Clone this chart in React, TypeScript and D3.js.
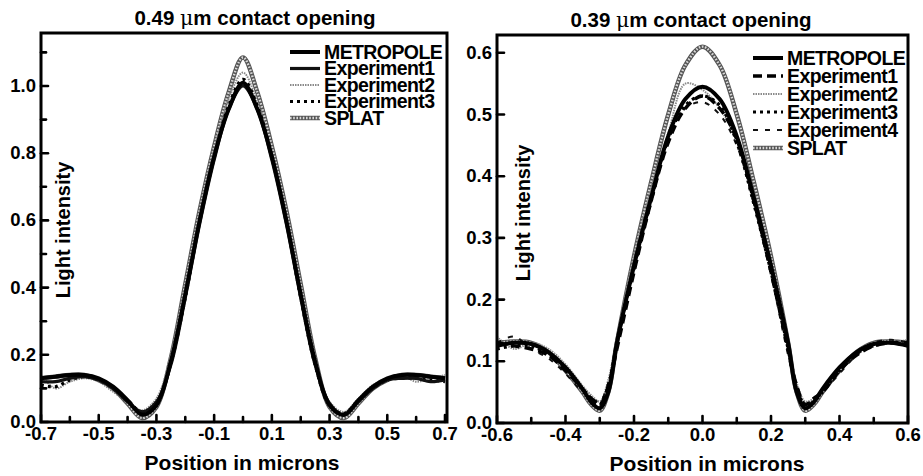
import React from "react";
import * as d3 from "d3";

// ---------- data ----------
const leftX = [-0.7, -0.65, -0.6, -0.55, -0.5, -0.45, -0.4, -0.35, -0.3, -0.25, -0.2, -0.15, -0.1, -0.05, 0, 0.05, 0.1, 0.15, 0.2, 0.25, 0.3, 0.35, 0.4, 0.45, 0.5, 0.55, 0.6, 0.65, 0.7];
const leftMetropole = [0.13, 0.135, 0.14, 0.14, 0.13, 0.105, 0.065, 0.022, 0.05, 0.18, 0.38, 0.6, 0.79, 0.93, 1.01, 0.93, 0.79, 0.6, 0.38, 0.18, 0.05, 0.022, 0.065, 0.105, 0.13, 0.14, 0.14, 0.135, 0.13];
const leftExp1 = [0.12, 0.12, 0.13, 0.135, 0.125, 0.1, 0.06, 0.03, 0.06, 0.17, 0.37, 0.59, 0.78, 0.93, 1.0, 0.93, 0.78, 0.59, 0.37, 0.17, 0.055, 0.02, 0.06, 0.1, 0.125, 0.13, 0.13, 0.12, 0.125];
const leftExp2 = [0.14, 0.1, 0.12, 0.13, 0.12, 0.09, 0.06, 0.035, 0.07, 0.2, 0.4, 0.62, 0.81, 0.96, 1.04, 0.95, 0.79, 0.6, 0.38, 0.18, 0.06, 0.03, 0.07, 0.11, 0.13, 0.14, 0.12, 0.13, 0.14];
const leftExp3 = [0.11, 0.105, 0.125, 0.135, 0.125, 0.1, 0.065, 0.03, 0.055, 0.175, 0.37, 0.6, 0.79, 0.94, 1.02, 0.94, 0.79, 0.6, 0.37, 0.17, 0.05, 0.025, 0.065, 0.1, 0.125, 0.13, 0.13, 0.125, 0.12];
const leftSplat = [0.13, 0.135, 0.14, 0.14, 0.125, 0.1, 0.055, 0.012, 0.045, 0.19, 0.41, 0.63, 0.82, 0.98, 1.085, 0.98, 0.82, 0.63, 0.41, 0.19, 0.045, 0.012, 0.055, 0.1, 0.125, 0.14, 0.14, 0.135, 0.13];

const rightX = [-0.6, -0.55, -0.5, -0.45, -0.4, -0.35, -0.325, -0.3, -0.275, -0.25, -0.2, -0.15, -0.1, -0.05, 0, 0.05, 0.1, 0.15, 0.2, 0.25, 0.275, 0.3, 0.325, 0.35, 0.4, 0.45, 0.5, 0.55, 0.6];
const rightMetropole = [0.125, 0.13, 0.128, 0.115, 0.09, 0.055, 0.034, 0.024, 0.05, 0.13, 0.255, 0.365, 0.465, 0.525, 0.545, 0.525, 0.465, 0.365, 0.255, 0.13, 0.05, 0.024, 0.034, 0.055, 0.09, 0.115, 0.128, 0.13, 0.125];
const rightExp1 = [0.13, 0.125, 0.12, 0.11, 0.085, 0.055, 0.04, 0.03, 0.06, 0.12, 0.245, 0.36, 0.455, 0.51, 0.53, 0.51, 0.46, 0.36, 0.245, 0.12, 0.06, 0.03, 0.04, 0.05, 0.085, 0.11, 0.125, 0.13, 0.13];
const rightExp2 = [0.14, 0.12, 0.13, 0.12, 0.095, 0.06, 0.045, 0.035, 0.07, 0.14, 0.27, 0.38, 0.47, 0.55, 0.54, 0.51, 0.46, 0.37, 0.26, 0.13, 0.065, 0.035, 0.04, 0.055, 0.09, 0.11, 0.13, 0.13, 0.135];
const rightExp3 = [0.12, 0.125, 0.125, 0.11, 0.09, 0.055, 0.04, 0.03, 0.06, 0.13, 0.25, 0.36, 0.46, 0.515, 0.53, 0.515, 0.455, 0.355, 0.245, 0.12, 0.055, 0.03, 0.035, 0.05, 0.085, 0.115, 0.125, 0.13, 0.125];
const rightExp4 = [0.13, 0.14, 0.12, 0.105, 0.08, 0.05, 0.04, 0.035, 0.065, 0.125, 0.26, 0.37, 0.46, 0.51, 0.52, 0.5, 0.45, 0.355, 0.24, 0.11, 0.055, 0.03, 0.04, 0.05, 0.08, 0.11, 0.13, 0.135, 0.13];
const rightSplat = [0.13, 0.132, 0.13, 0.115, 0.085, 0.05, 0.03, 0.02, 0.05, 0.13, 0.27, 0.39, 0.5, 0.58, 0.61, 0.58, 0.5, 0.39, 0.27, 0.13, 0.05, 0.02, 0.03, 0.05, 0.085, 0.115, 0.13, 0.132, 0.13];

const leftXTicks = [-0.7, -0.6, -0.5, -0.4, -0.3, -0.2, -0.1, 0, 0.1, 0.2, 0.3, 0.4, 0.5, 0.6, 0.7];
const leftXLabels = ["-0.7", "-0.5", "-0.3", "-0.1", "0.1", "0.3", "0.5", "0.7"];
const leftYTicks = [0, 0.1, 0.2, 0.3, 0.4, 0.5, 0.6, 0.7, 0.8, 0.9, 1.0, 1.1];
const leftYLabels = ["0.0", "0.2", "0.4", "0.6", "0.8", "1.0"];
const rightXTicks = [-0.6, -0.5, -0.4, -0.3, -0.2, -0.1, 0, 0.1, 0.2, 0.3, 0.4, 0.5, 0.6];
const rightXLabels = ["-0.6", "-0.4", "-0.2", "0.0", "0.2", "0.4", "0.6"];
const rightYTicks = [0, 0.1, 0.2, 0.3, 0.4, 0.5, 0.6];
const rightYLabels = ["0.0", "0.1", "0.2", "0.3", "0.4", "0.5", "0.6"];

const leftNames = ["METROPOLE", "Experiment1", "Experiment2", "Experiment3", "SPLAT"];
const rightNames = ["METROPOLE", "Experiment1", "Experiment2", "Experiment3", "Experiment4", "SPLAT"];

// ---------- styles ----------
const FONT = "'Liberation Sans', Arial, Helvetica, sans-serif";

function StyledPath({ d, kind }: { d: string; kind: string }) {
  if (kind === "metropole") return <path d={d} fill="none" stroke="#000" strokeWidth={4} strokeLinejoin="round" />;
  if (kind === "solid") return <path d={d} fill="none" stroke="#111" strokeWidth={3.2} strokeLinejoin="round" />;
  if (kind === "dashed") return <path d={d} fill="none" stroke="#000" strokeWidth={3.5} strokeDasharray="9 5" />;
  if (kind === "gray") return <path d={d} fill="none" stroke="#8a8a8a" strokeWidth={2} strokeDasharray="1.5 1" />;
  if (kind === "dotted") return <path d={d} fill="none" stroke="#000" strokeWidth={3.2} strokeDasharray="3 4" />;
  if (kind === "slant") return <path d={d} fill="none" stroke="#111" strokeWidth={2} strokeDasharray="5 7" />;
  return (
    <g>
      <path d={d} fill="none" stroke="#555" strokeWidth={4.5} strokeLinejoin="round" />
      <path d={d} fill="none" stroke="#d8d8d8" strokeWidth={2.4} strokeDasharray="1.6 1.6" strokeLinejoin="round" />
    </g>
  );
}

type Panel = {
  id: string;
  x0: number; x1: number; xd: [number, number];
  yBottom: number; yTop: number; yd: [number, number];
  frameRight: number;
  xs: number[];
  series: { vals: number[]; kind: string }[];
  names: string[];
  kinds: string[];
  xTicks: number[]; xLabels: string[];
  yTicks: number[]; yLabels: string[];
  title: string;
  titleX: number;
  legendX: number; legendY: number; legendStep: number;
  ylabX: number; ylabY: number;
  xlabX: number;
};

function PanelView({ p }: { p: Panel }) {
  const x = d3.scaleLinear().domain(p.xd).range([p.x0, p.x1]);
  const y = d3.scaleLinear().domain(p.yd).range([p.yBottom, p.yTop]);
  const line = d3
    .line<number>()
    .x((_, i) => x(p.xs[i]))
    .y((v) => y(v))
    .curve(d3.curveCatmullRom.alpha(0.5));
  const top = p.yTop;
  const bottom = y(0);
  const left = p.x0;
  const right = p.frameRight;
  const [pre, post] = p.title.split("\u03bc");
  return (
    <g>
      <defs>
        <clipPath id={"clip" + p.id}>
          <rect x={left} y={top} width={right - left} height={bottom - top} />
        </clipPath>
      </defs>
      <text x={p.titleX} y={top - 8} textAnchor="middle" fontFamily={FONT} fontWeight="bold" fontSize={20.5}>
        {pre}
        <tspan fontWeight="normal" fontFamily="'DejaVu Serif', serif">{"\u03bc"}</tspan>
        {post}
      </text>
      <g clipPath={`url(#clip${p.id})`}>
        {p.series.map((s, i) => (
          <StyledPath key={i} d={line(s.vals) || ""} kind={s.kind} />
        ))}
      </g>
      <rect x={left} y={top} width={right - left} height={bottom - top} fill="none" stroke="#000" strokeWidth={3} />
      {p.xTicks.map((t, i) => {
        const lab = p.xLabels.includes(t.toFixed(1));
        return (
          <line key={"xt" + i} x1={x(t)} x2={x(t)} y1={bottom} y2={bottom - (lab ? 7 : 5)} stroke="#000" strokeWidth={2.6} strokeLinecap="round" />
        );
      })}
      {p.xLabels.map((l, i) => (
        <text key={"xl" + i} x={x(+l)} y={bottom + 18} textAnchor="middle" fontFamily={FONT} fontWeight="bold" fontSize={18.5}>
          {l}
        </text>
      ))}
      {p.yTicks.map((t, i) => {
        const lab = p.yLabels.includes(t.toFixed(1));
        return (
          <line key={"yt" + i} x1={left} x2={left + (lab ? 7 : 5)} y1={y(t)} y2={y(t)} stroke="#000" strokeWidth={2.6} strokeLinecap="round" />
        );
      })}
      {p.yLabels.map((l, i) => (
        <text key={"yl" + i} x={left - 5} y={y(+l) + 6} textAnchor="end" fontFamily={FONT} fontWeight="bold" fontSize={18.5}>
          {l}
        </text>
      ))}
      <text x={p.xlabX} y={bottom + 48} textAnchor="middle" fontFamily={FONT} fontWeight="bold" fontSize={21}>
        Position in microns
      </text>
      <text transform={`translate(${p.ylabX},${p.ylabY}) rotate(-90)`} textAnchor="middle" fontFamily={FONT} fontWeight="bold" fontSize={20}>
        Light intensity
      </text>
      {p.names.map((n, i) => {
        const ly = p.legendY + i * p.legendStep;
        return (
          <g key={"lg" + i}>
            <StyledPath d={`M${p.legendX},${ly}L${p.legendX + 30},${ly}`} kind={p.kinds[i]} />
            <text x={p.legendX + 34} y={ly + 6.5} fontFamily={FONT} fontWeight="bold" fontSize={19.5} letterSpacing={-0.6}>
              {n}
            </text>
          </g>
        );
      })}
    </g>
  );
}

export default function App() {
  const leftKinds = ["metropole", "solid", "gray", "dotted", "splat"];
  const rightKinds = ["metropole", "dashed", "gray", "dotted", "slant", "splat"];
  const leftPanel: Panel = {
    id: "L",
    x0: 41, x1: 445, xd: [-0.7, 0.7],
    yBottom: 422, yTop: 33, yd: [0, (422 - 33) / 336],
    frameRight: 447,
    xs: leftX,
    series: [
      { vals: leftSplat, kind: "splat" },
      { vals: leftExp2, kind: "gray" },
      { vals: leftExp3, kind: "dotted" },
      { vals: leftExp1, kind: "solid" },
      { vals: leftMetropole, kind: "metropole" },
    ],
    names: leftNames, kinds: leftKinds,
    xTicks: leftXTicks, xLabels: leftXLabels,
    yTicks: leftYTicks, yLabels: leftYLabels,
    title: "0.49 \u03bcm contact opening",
    titleX: 255,
    legendX: 290, legendY: 52, legendStep: 16.5,
    ylabX: 70, ylabY: 230,
    xlabX: 242,
  };
  const rightPanel: Panel = {
    id: "R",
    x0: 497, x1: 908, xd: [-0.6, 0.6],
    yBottom: 423, yTop: 35, yd: [0, (423 - 35) / 617],
    frameRight: 908,
    xs: rightX,
    series: [
      { vals: rightSplat, kind: "splat" },
      { vals: rightExp2, kind: "gray" },
      { vals: rightExp4, kind: "slant" },
      { vals: rightExp3, kind: "dotted" },
      { vals: rightExp1, kind: "dashed" },
      { vals: rightMetropole, kind: "metropole" },
    ],
    names: rightNames, kinds: rightKinds,
    xTicks: rightXTicks, xLabels: rightXLabels,
    yTicks: rightYTicks, yLabels: rightYLabels,
    title: "0.39 \u03bcm contact opening",
    titleX: 691,
    legendX: 753, legendY: 58, legendStep: 18,
    ylabX: 530, ylabY: 213,
    xlabX: 707,
  };
  return (
    <svg width={923} height={476} style={{ display: "block", position: "absolute", left: 0, top: 0, background: "#fff" }}>
      <rect width={923} height={476} fill="#fff" />
      <PanelView p={leftPanel} />
      <PanelView p={rightPanel} />
    </svg>
  );
}
